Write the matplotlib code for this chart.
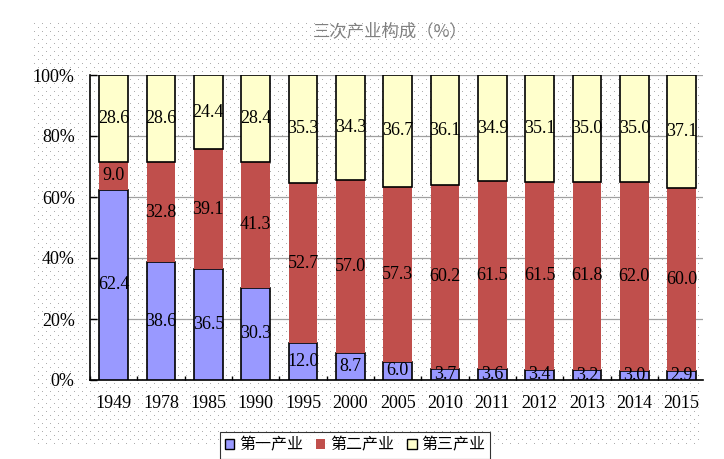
import numpy as np
import matplotlib.pyplot as plt
import matplotlib.patches as mpatches

years = ['1949', '1978', '1985', '1990', '1995', '2000', '2005',
         '2010', '2011', '2012', '2013', '2014', '2015']
primary = [62.4, 38.6, 36.5, 30.3, 12.0, 8.7, 6.0, 3.7, 3.6, 3.4, 3.2, 3.0, 2.9]
secondary = [9.0, 32.8, 39.1, 41.3, 52.7, 57.0, 57.3, 60.2, 61.5, 61.5, 61.8, 62.0, 60.0]
tertiary = [28.6, 28.6, 24.4, 28.4, 35.3, 34.3, 36.7, 36.1, 34.9, 35.1, 35.0, 35.0, 37.1]
names = ['第一产业', '第二产业', '第三产业']

serif = 'Liberation Serif'
cjk = ['Noto Sans CJK SC', 'DejaVu Sans']

fig = plt.figure(figsize=(7.24, 4.59), dpi=100)

# dotted background texture (pure decoration)
bw, bh = 667, 422
tex = np.zeros((bh, bw, 4))
for r in range(0, bh, 4):
    off = 0 if (r // 4) % 2 == 0 else 4
    tex[r, off::8, :3] = 0.68
    tex[r, off::8, 3] = 1.0
fig.figimage(tex, xo=34, yo=459 - 23 - bh, origin='upper', zorder=-1)

ax = fig.add_axes([90 / 724, 1 - 380 / 459, 613 / 724, 305 / 459])
ax.patch.set_visible(False)

x = np.arange(len(years))
p = np.array(primary)
s = np.array(secondary)
t = np.array(tertiary)
w = 0.61

ax.bar(x, p, w, color='#9999FF', edgecolor='black', linewidth=1.2, zorder=3)
ax.bar(x, s, w, bottom=p, color='#C04F4C', edgecolor='none', zorder=3)
ax.bar(x, t, w, bottom=p + s, color='#FFFFCC', edgecolor='black', linewidth=1.2, zorder=3)

for i in range(len(years)):
    for val, base in ((p[i], 0), (s[i], p[i]), (t[i], p[i] + s[i])):
        ax.text(x[i], base + val / 2, '%.1f' % val, ha='center', va='center',
                fontsize=13, family=serif, zorder=4)

ax.set_xlim(-0.5, 12.45)
ax.set_ylim(0, 100)
ax.set_yticks(range(0, 101, 20))
ax.set_yticklabels(['%d%%' % v for v in range(0, 101, 20)], family=serif, fontsize=13)
ax.set_xticks(x)
ax.set_xticklabels(years, family=serif, fontsize=13)
ax.set_xticks(np.arange(-0.5, 12.5, 1), minor=True)
ax.tick_params(axis='x', which='major', length=0, pad=11)
ax.tick_params(axis='x', which='minor', direction='in', length=3, width=1)
ax.tick_params(axis='y', direction='in', length=5, width=1, pad=11)
ax.yaxis.grid(True, color='#a0a0a0', linewidth=0.9, zorder=1)
ax.set_axisbelow(True)
for sp in ['top', 'right']:
    ax.spines[sp].set_visible(False)
ax.spines['left'].set_linewidth(1.2)
ax.spines['bottom'].set_linewidth(1.2)

fig.text(390 / 724, 1 - 31 / 459, '三次产业构成（%）', ha='center', va='center',
         fontsize=12.5, color='#808080', family=cjk)

handles = [mpatches.Patch(facecolor='#9999FF', edgecolor='black', linewidth=1),
           mpatches.Patch(facecolor='#C04F4C', edgecolor='none'),
           mpatches.Patch(facecolor='#FFFFCC', edgecolor='black', linewidth=1)]
leg = fig.legend(handles, names, loc='upper center', bbox_to_anchor=(355 / 724, 1 - 424 / 459),
                 ncol=3, frameon=True, fancybox=False, prop={'family': cjk, 'size': 11.5},
                 handlelength=0.6, handleheight=0.6, handletextpad=0.3, columnspacing=0.8,
                 borderpad=0.3, edgecolor='black')
leg.get_frame().set_linewidth(0.8)

fig.savefig('out.png', dpi=100)
